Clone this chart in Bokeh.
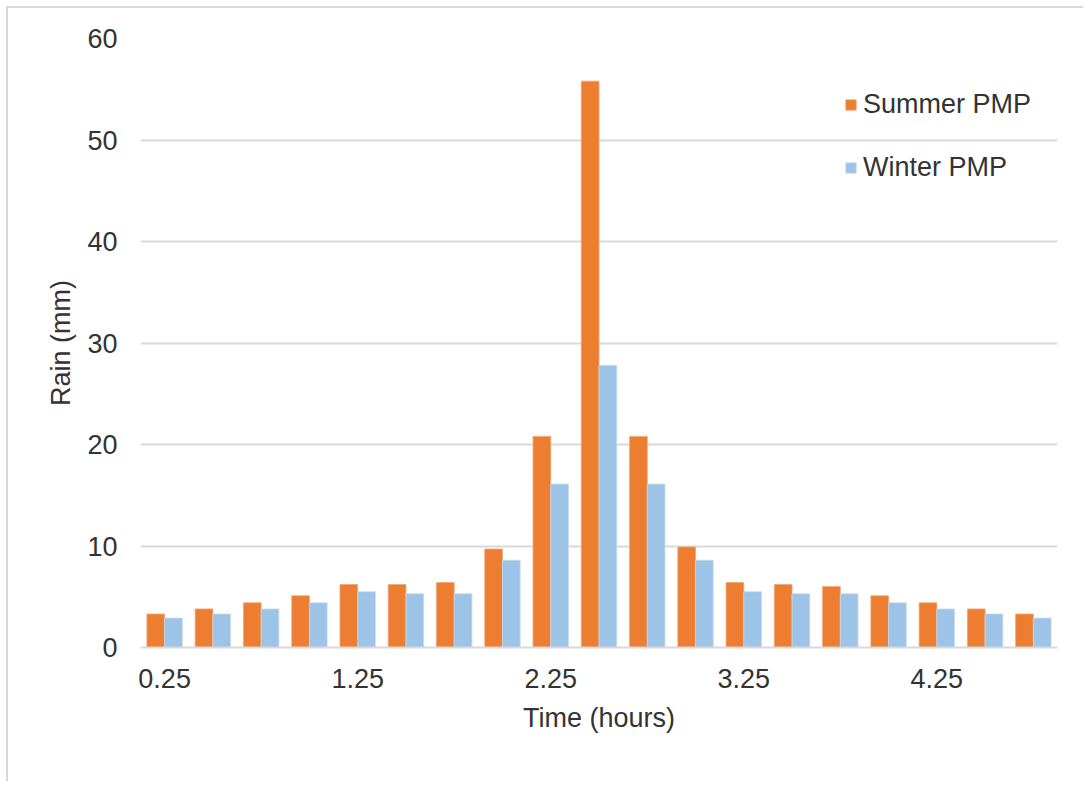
from bokeh.plotting import figure
from bokeh.models import FixedTicker, Range1d, Legend, LegendItem, ColumnDataSource
from bokeh.transform import dodge
from bokeh.embed import file_html
from bokeh.resources import INLINE

# ---- data ----
times = [0.25, 0.5, 0.75, 1.0, 1.25, 1.5, 1.75, 2.0, 2.25, 2.5,
         2.75, 3.0, 3.25, 3.5, 3.75, 4.0, 4.25, 4.5, 4.75]
summer_pmp = [3.3, 3.8, 4.4, 5.1, 6.2, 6.2, 6.4, 9.7, 20.8, 55.8,
              20.8, 9.9, 6.4, 6.2, 6.0, 5.1, 4.4, 3.8, 3.3]
winter_pmp = [2.9, 3.3, 3.8, 4.4, 5.5, 5.3, 5.3, 8.6, 16.1, 27.8,
              16.1, 8.6, 5.5, 5.3, 5.3, 4.4, 3.8, 3.3, 2.9]
x_ticks = [0.25, 1.25, 2.25, 3.25, 4.25]
x_tick_labels = ["0.25", "1.25", "2.25", "3.25", "4.25"]
y_ticks = [0, 10, 20, 30, 40, 50, 60]
series_names = ["Summer PMP", "Winter PMP"]

FONT = "Liberation Sans"
TXT = "#333333"
GRID = "#d9d9d9"
FS = "27px"

src = ColumnDataSource(dict(t=times, summer=summer_pmp, winter=winter_pmp))

p = figure(width=1077, height=775, output_backend="svg", toolbar_location=None,
           x_range=Range1d(0.125, 4.875), y_range=Range1d(0, 60),
           min_border_left=132, min_border_right=28, min_border_top=30,
           min_border_bottom=136)
p.outline_line_color = None
p.background_fill_color = "white"
p.border_fill_color = "white"
p.styles = {"margin-left": "6px", "margin-top": "6px",
            "border-left": "2px solid #d9d9d9", "border-top": "2px solid #d9d9d9"}

step = 0.25
bw = step * 0.367
r1 = p.vbar(x=dodge("t", -bw / 2, range=p.x_range), top="summer", width=bw,
            source=src, fill_color="#ED7D31", line_color="#f3a472", line_width=0.8)
r2 = p.vbar(x=dodge("t", bw / 2, range=p.x_range), top="winter", width=bw,
            source=src, fill_color="#9DC3E6", line_color="#c4dcf0", line_width=0.8)

# axes
p.xaxis.ticker = FixedTicker(ticks=x_ticks)
p.xaxis.major_label_overrides = {t: l for t, l in zip(x_ticks, x_tick_labels)}
p.yaxis.ticker = FixedTicker(ticks=y_ticks)
for ax in (p.xaxis[0], p.yaxis[0]):
    ax.major_tick_line_color = None
    ax.minor_tick_line_color = None
    ax.major_label_text_font = FONT
    ax.major_label_text_font_size = FS
    ax.major_label_text_color = TXT
    ax.axis_label_text_font = FONT
    ax.axis_label_text_font_size = FS
    ax.axis_label_text_color = TXT
    ax.axis_label_text_font_style = "normal"
p.xaxis.axis_line_color = GRID
p.xaxis.axis_line_width = 2
p.yaxis.axis_line_color = None
p.xaxis.axis_label = "Time (hours)"
p.yaxis.axis_label = "Rain (mm)"
p.xaxis.major_label_standoff = 15
p.xaxis.axis_label_standoff = 12
p.yaxis.major_label_standoff = 17
p.yaxis.axis_label_standoff = 8

p.xgrid.grid_line_color = None
p.ygrid.ticker = FixedTicker(ticks=y_ticks)
p.ygrid.grid_line_color = GRID
p.ygrid.grid_line_width = 2

legend = Legend(items=[LegendItem(label=series_names[0], renderers=[r1]),
                       LegendItem(label=series_names[1], renderers=[r2])],
                location=(704, 464), orientation="vertical")
legend.background_fill_alpha = 0
legend.border_line_alpha = 0
legend.padding = 0
legend.margin = 0
legend.glyph_width = 13
legend.glyph_height = 13
legend.label_height = 30
legend.spacing = 32
legend.label_standoff = 6
legend.label_text_font = FONT
legend.label_text_font_size = FS
legend.label_text_color = TXT
p.add_layout(legend, "center")

open("out.html", "w").write(file_html(p, INLINE))
